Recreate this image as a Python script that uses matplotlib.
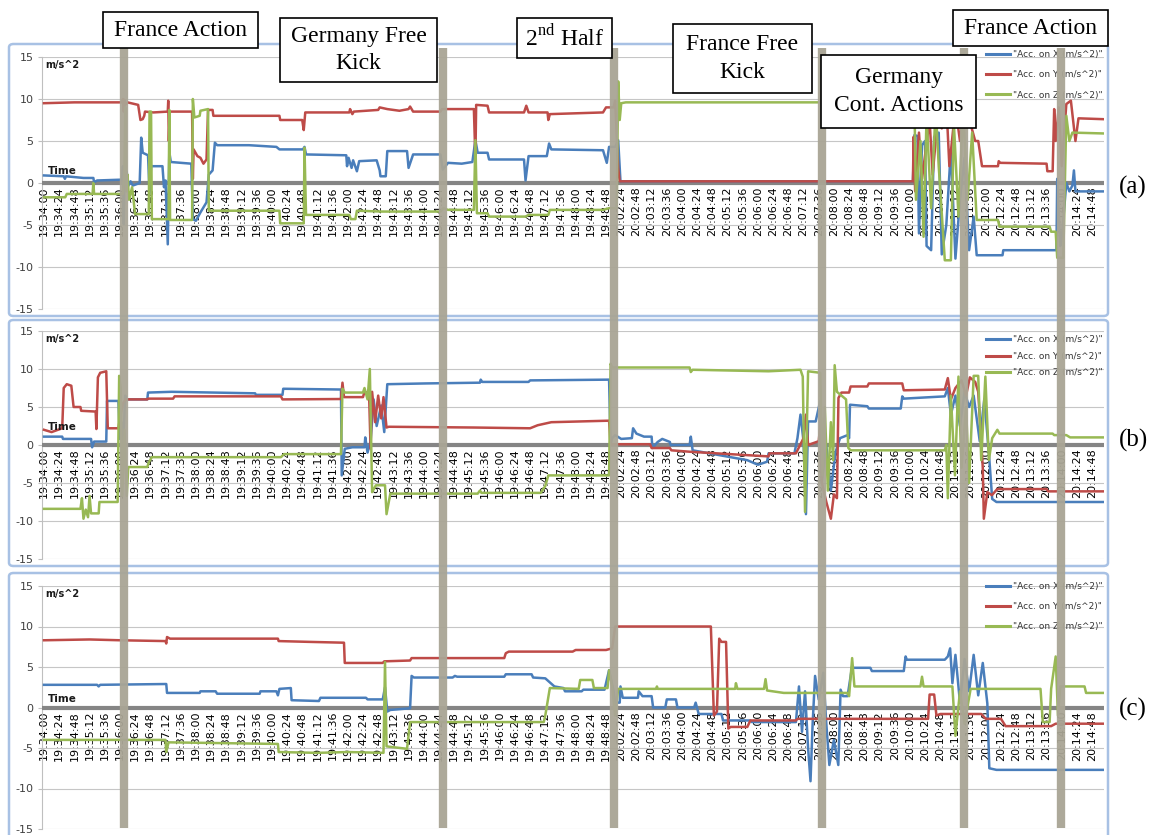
import matplotlib
matplotlib.use("Agg")
import matplotlib.pyplot as plt
import matplotlib.transforms as mtransforms
from matplotlib.lines import Line2D
from matplotlib.patches import Rectangle, FancyBboxPatch

plt.rcParams["font.family"] = ["DejaVu Sans"]
plt.rcParams["axes.unicode_minus"] = False

# ---------------------------------------------------------------- data
time_labels = [
    "19:34:00", "19:34:24", "19:34:48", "19:35:12", "19:35:36", "19:36:00",
    "19:36:24", "19:36:48", "19:37:12", "19:37:36", "19:38:00", "19:38:24",
    "19:38:48", "19:39:12", "19:39:36", "19:40:00", "19:40:24", "19:40:48",
    "19:41:12", "19:41:36", "19:42:00", "19:42:24", "19:42:48", "19:43:12",
    "19:43:36", "19:44:00", "19:44:24", "19:44:48", "19:45:12", "19:45:36",
    "19:46:00", "19:46:24", "19:46:48", "19:47:12", "19:47:36", "19:48:00",
    "19:48:24", "19:48:48",
    "20:02:24", "20:02:48", "20:03:12", "20:03:36", "20:04:00", "20:04:24",
    "20:04:48", "20:05:12", "20:05:36", "20:06:00", "20:06:24", "20:06:48",
    "20:07:12", "20:07:36", "20:08:00", "20:08:24", "20:08:48", "20:09:12",
    "20:09:36", "20:10:00", "20:10:24", "20:10:48", "20:11:12", "20:11:36",
    "20:12:00", "20:12:24", "20:12:48", "20:13:12", "20:13:36", "20:14:00",
    "20:14:24", "20:14:48",
]

series_names = ['"Acc. on X (m/s^2)"', '"Acc. on Y (m/s^2)"', '"Acc. on Z (m/s^2)"']

# samples as (position on the time axis in label steps, acceleration m/s^2)
panel_a_x = [
    (0.0, 0.9), (1.3, 0.8), (1.38, 0.5), (1.45, 0.8), (2.6, 0.6), (3.25, 0.6), (3.3, 0.1),
    (3.5, 0.3), (5.15, 0.4), (5.2, 2.0), (5.25, -4.9), (5.3, 0.8), (5.45, 1.3), (5.5, -0.5),
    (5.7, 0.2), (5.85, -0.3), (6.3, 0.0), (6.4, 5.4), (6.5, 3.6), (6.85, 3.3), (6.95, -1.2),
    (7.05, 2.0), (7.8, 2.0), (7.9, -0.5), (8.0, 0.3), (8.15, -7.3), (8.25, 3.7), (8.35, 2.5),
    (9.7, 2.3), (9.8, -4.3), (10.0, -4.5), (10.3, -3.5), (10.7, -2.3), (10.85, 1.0), (11.1, 1.5),
    (11.25, 4.8), (11.4, 4.5), (13.5, 4.5), (15.3, 4.3), (15.5, 4.0), (17.05, 4.0), (17.15, 4.3),
    (17.25, 3.4), (19.9, 3.3), (19.95, 2.0), (20.05, 3.0), (20.25, 1.8), (20.35, 2.7), (20.6, 1.4),
    (20.75, 2.6), (21.9, 2.7), (22.1, 1.5), (22.15, 0.8), (22.5, 0.8), (22.6, 3.8), (23.9, 3.8),
    (24.0, 1.8), (24.3, 3.4), (26.1, 3.4), (26.25, 1.6), (26.6, 2.4), (27.5, 2.3), (28.2, 2.5),
    (28.4, 5.1), (28.55, 3.6), (29.2, 3.6), (29.3, 2.8), (31.6, 2.8), (31.7, 0.3), (31.9, 3.2),
    (33.1, 3.2), (33.25, 4.7), (33.4, 4.0), (36.8, 3.9), (37.05, 2.4), (37.2, 4.3), (37.6, 4.3),
    (37.8, 5.1), (37.95, 0.2), (57.2, 0.2), (57.3, 5.7), (57.5, 5.6), (57.6, -6.0), (57.8, 4.5),
    (58.0, 5.0), (58.1, -7.5), (58.4, -8.0), (58.6, 5.5), (58.9, 6.0), (59.1, -8.5), (59.4, -5.0),
    (59.7, 4.0), (60.0, -9.0), (60.3, -2.0), (60.6, 3.0), (60.9, -8.0), (61.2, -4.0), (61.4, -8.6),
    (63.1, -8.6), (63.15, -8.0), (66.65, -8.0), (66.7, 0.5), (66.9, -7.5), (67.0, -6.5),
    (67.3, 0.0), (67.5, -1.0), (67.7, -0.3), (67.8, 1.5), (67.9, -1.0), (69.7, -1.0),
]
panel_a_y = [
    (0.0, 9.5), (2.0, 9.6), (5.15, 9.6), (5.2, 10.0), (5.25, 8.5), (5.3, 9.9), (5.35, 9.3),
    (5.5, 9.6), (6.2, 9.3), (6.35, 7.5), (6.5, 7.6), (6.6, 8.0), (6.65, 8.5), (7.2, 8.4),
    (8.15, 8.5), (8.18, 9.8), (8.22, 5.0), (8.28, 8.5), (9.75, 8.5), (9.8, 0.5), (9.85, 4.0),
    (10.1, 3.2), (10.3, 3.0), (10.5, 2.3), (10.7, 2.8), (10.8, 8.7), (11.1, 8.7), (11.15, 8.0),
    (15.5, 8.0), (15.55, 7.5), (17.0, 7.5), (17.1, 6.3), (17.2, 8.4), (20.1, 8.4), (20.15, 8.8),
    (20.3, 8.2), (20.4, 8.5), (22.0, 8.7), (22.1, 9.0), (22.6, 8.8), (23.4, 8.6), (24.0, 8.8),
    (24.1, 9.1), (24.3, 8.5), (26.1, 8.5), (26.2, 8.8), (28.3, 8.8), (28.4, 2.8), (28.45, 9.3),
    (29.2, 9.2), (29.3, 8.4), (31.6, 8.4), (31.75, 9.2), (31.9, 8.4), (33.15, 8.4), (33.2, 7.5),
    (33.3, 8.2), (36.8, 8.4), (37.0, 9.0), (37.5, 9.0), (37.6, 9.8), (37.8, 1.8), (37.9, 0.2),
    (57.2, 0.2), (57.25, 5.5), (57.35, -1.0), (57.6, 6.0), (57.8, 0.5), (58.3, 7.5), (58.5, 1.0),
    (58.9, 9.0), (59.1, 6.5), (59.4, 9.5), (59.6, 2.0), (60.0, 9.0), (60.3, 5.0), (60.6, 9.5),
    (61.0, 7.0), (61.3, 5.0), (61.5, 5.0), (61.75, 2.0), (62.8, 2.0), (62.85, 2.6), (62.95, 2.4),
    (66.0, 2.3), (66.05, 1.4), (66.4, 1.4), (66.5, 8.8), (66.6, 5.0), (66.8, 9.0), (67.0, 2.0),
    (67.3, 9.4), (67.6, 9.8), (67.9, 5.0), (68.1, 7.7), (69.7, 7.6),
]
panel_a_z = [
    (0.0, -1.7), (1.4, -1.7), (1.5, -1.3), (3.2, -1.3), (3.25, 0.0), (3.3, -1.3), (5.2, -1.3),
    (5.3, 2.0), (5.35, 9.0), (5.42, -1.0), (5.5, 1.0), (5.6, -2.0), (5.8, -0.5), (6.0, -3.7),
    (6.9, -3.7), (6.95, 8.5), (7.05, 8.5), (7.1, -4.3), (8.2, -4.3), (8.25, 8.7), (8.3, -4.4),
    (9.75, -4.4), (9.8, 10.0), (9.9, 7.8), (10.25, 8.0), (10.3, 8.6), (10.8, 8.8), (10.85, -3.3),
    (15.5, -3.3), (15.55, -4.8), (17.1, -4.8), (17.15, 4.2), (17.25, -3.8), (20.1, -3.8),
    (20.2, -4.3), (20.5, -4.3), (20.6, -3.3), (22.2, -3.4), (26.1, -3.4), (26.3, -3.0),
    (26.6, -3.2), (28.3, -3.2), (28.4, 5.1), (28.5, -3.6), (29.2, -3.6), (29.3, -4.0),
    (31.7, -4.0), (31.9, -3.8), (33.2, -3.8), (33.3, -3.2), (36.8, -3.2), (37.2, -3.0),
    (37.7, -3.0), (37.8, 12.1), (37.9, 7.5), (38.0, 9.5), (38.3, 9.6), (57.2, 9.6), (57.3, 9.6),
    (57.4, -2.0), (57.7, 5.0), (57.9, -6.4), (58.1, 8.0), (58.4, -3.0), (58.7, 9.0), (58.9, 2.0),
    (59.3, -9.2), (59.7, -9.2), (59.9, 7.0), (60.2, -4.0), (60.5, 9.0), (60.8, -2.0), (61.1, 6.0),
    (61.4, -4.4), (62.8, -4.4), (62.9, -5.2), (66.2, -5.2), (66.3, -5.8), (66.6, -5.8),
    (66.7, -8.9), (67.1, -8.9), (67.3, 8.0), (67.5, 5.0), (67.7, 6.0), (69.7, 5.9),
]

panel_b_x = [
    (0.0, 1.1), (1.2, 1.1), (1.25, 0.8), (3.1, 0.8), (3.17, -0.3), (3.3, 0.45), (4.1, 0.45),
    (4.15, 5.8), (4.9, 5.8), (5.0, 0.8), (5.1, 3.0), (5.2, -0.5), (5.35, 6.5), (5.4, 6.0),
    (6.8, 6.0), (6.85, 6.9), (8.4, 7.0), (13.9, 6.8), (13.95, 6.6), (15.7, 6.6), (15.75, 7.4),
    (19.55, 7.3), (19.6, -4.0), (19.8, -0.5), (20.3, -0.3), (21.1, -0.3), (21.15, 1.0),
    (21.3, -1.0), (21.5, 0.5), (21.7, 6.0), (21.9, 2.5), (22.2, 5.2), (22.4, 1.7), (22.6, 8.0),
    (25.1, 8.1), (28.7, 8.2), (28.75, 8.6), (28.85, 8.3), (31.9, 8.3), (32.0, 8.5), (37.2, 8.6),
    (37.3, 0.0), (37.4, 0.9), (37.6, 1.3), (38.0, 0.8), (38.7, 0.9), (38.78, 2.2), (39.0, 1.5),
    (39.5, 1.1), (40.0, 1.1), (40.05, -0.4), (40.4, 0.4), (40.7, 0.8), (41.2, 0.4), (41.25, 0.0),
    (42.5, 0.0), (42.58, 1.1), (42.7, -0.7), (46.3, -2.0), (47.0, -2.6), (47.6, -2.2),
    (47.7, -1.1), (49.4, -1.1), (49.6, 0.9), (49.8, 4.0), (50.0, 0.5), (50.16, -9.1), (50.3, 3.1),
    (50.8, 3.1), (51.1, 5.8), (51.2, -4.9), (51.5, 0.0), (51.8, -6.0), (52.1, -1.0), (52.4, 0.9),
    (52.9, 1.3), (53.0, 0.9), (53.06, 5.3), (54.2, 5.1), (54.3, 4.8), (56.4, 4.8), (56.5, 6.4),
    (56.6, 6.1), (59.3, 6.4), (59.5, 7.5), (59.7, 4.0), (60.0, 6.5), (60.3, 2.5), (60.6, 7.0),
    (60.9, 5.0), (61.2, 6.5), (61.6, 0.5), (61.9, 6.0), (62.2, -1.0), (62.42, -7.1),
    (62.7, -7.5), (69.7, -7.5),
]
panel_b_y = [
    (0.0, 2.0), (0.5, 1.7), (1.2, 2.2), (1.3, 7.5), (1.5, 8.0), (1.8, 7.8), (1.95, 5.0),
    (2.4, 5.0), (2.45, 4.5), (3.4, 4.4), (3.45, 2.1), (3.55, 8.9), (3.7, 9.5), (4.1, 9.7),
    (4.2, 2.2), (4.9, 2.2), (5.0, 3.5), (5.2, 5.5), (5.4, 6.0), (6.8, 6.0), (6.85, 6.1),
    (8.5, 6.1), (8.6, 6.4), (15.6, 6.4), (15.7, 6.0), (19.55, 6.05), (19.65, 8.2), (19.75, 6.3),
    (21.0, 6.3), (21.1, 7.0), (21.4, 6.8), (21.5, -0.5), (21.6, 7.0), (21.8, 3.0), (22.0, 6.5),
    (22.2, 3.5), (22.35, 6.3), (22.55, 2.3), (22.7, 2.4), (28.3, 2.3), (32.0, 2.2), (32.5, 2.6),
    (33.4, 3.0), (37.2, 3.2), (37.3, 0.0), (37.4, 0.1), (39.9, 0.1), (40.0, -0.4), (41.2, -0.4),
    (41.3, -0.7), (42.6, -0.9), (46.0, -1.3), (47.7, -1.5), (47.75, -1.1), (49.5, -1.1),
    (50.0, 0.9), (50.16, 4.0), (50.3, 0.0), (51.0, 0.5), (51.15, 3.6), (51.2, -4.9),
    (51.5, -7.5), (51.8, -9.7), (52.0, -6.5), (52.2, -7.0), (52.3, 6.2), (52.5, 6.9),
    (53.0, 6.9), (53.1, 7.7), (54.2, 7.7), (54.3, 8.1), (56.5, 8.1), (56.6, 7.2), (59.3, 7.3),
    (59.5, 8.8), (59.7, 6.0), (60.0, 7.5), (60.4, 8.5), (60.7, 6.5), (60.95, 8.9), (61.3, 8.3),
    (61.5, 7.0), (61.8, -3.0), (61.87, -9.7), (62.1, -6.2), (62.4, -6.6), (62.75, -5.8),
    (66.0, -5.8), (66.1, -6.1), (69.7, -6.1),
]
panel_b_z = [
    (0.0, -8.4), (2.4, -8.4), (2.5, -7.0), (2.6, -9.7), (2.75, -8.5), (2.9, -9.5), (3.0, -6.7),
    (3.1, -9.0), (3.6, -9.0), (3.65, -7.5), (4.85, -7.5), (4.95, 9.1), (5.05, 7.5), (5.15, -6.7),
    (5.3, 2.0), (5.45, -6.7), (5.55, -2.9), (6.8, -2.9), (6.9, -2.3), (7.1, -1.6), (15.6, -1.6),
    (15.8, -1.2), (19.55, -1.2), (19.65, 7.4), (19.8, 6.9), (21.0, 6.9), (21.1, 7.5),
    (21.3, 6.0), (21.45, 10.0), (21.6, -6.2), (21.85, -5.3), (22.45, -5.3), (22.55, -9.1),
    (22.8, -6.4), (28.55, -6.4), (28.7, -6.0), (28.8, -6.3), (32.7, -6.3), (33.0, -5.4),
    (33.2, -4.0), (37.2, -4.0), (37.3, 10.7), (37.4, 10.2), (42.5, 10.2), (42.58, 9.6),
    (42.7, 9.9), (47.7, 9.7), (49.8, 9.9), (49.95, 9.0), (50.1, -8.8), (50.3, 9.7), (51.1, 9.5),
    (51.25, -4.0), (51.4, 5.0), (51.6, -6.0), (51.8, 3.0), (51.95, -2.0), (52.05, 10.5),
    (52.2, 7.0), (52.8, 6.0), (52.95, -0.4), (53.1, -0.7), (59.3, -0.7), (59.4, 0.0),
    (59.5, -7.0), (59.7, 6.5), (59.97, -4.0), (60.2, 9.0), (60.4, -3.0), (60.7, 5.0),
    (60.9, -5.0), (61.2, 9.1), (61.5, 9.1), (61.7, -2.0), (61.97, 9.0), (62.2, -2.0),
    (62.42, 0.9), (62.76, 2.0), (62.9, 1.5), (66.4, 1.5), (66.5, 1.3), (67.3, 1.3), (67.55, 1.0),
    (69.7, 1.0),
]

panel_c_x = [
    (0.0, 2.8), (3.5, 2.8), (3.6, 2.6), (3.7, 2.8), (8.05, 2.9), (8.1, 1.8), (10.25, 1.8),
    (10.3, 2.0), (11.3, 2.0), (11.4, 1.7), (14.2, 1.7), (14.25, 2.0), (15.3, 2.0), (15.4, 1.5),
    (15.5, 2.3), (16.25, 2.4), (16.3, 0.9), (18.1, 0.8), (18.2, 1.2), (21.2, 1.2), (21.3, 1.0),
    (22.3, 1.0), (22.45, 2.5), (22.6, -0.5), (22.8, -0.3), (24.1, -0.1), (24.2, 3.9),
    (24.35, 3.7), (26.9, 3.7), (27.05, 3.9), (27.2, 3.8), (30.3, 3.8), (30.4, 4.1), (32.1, 4.1),
    (32.2, 3.7), (33.0, 3.6), (33.6, 2.6), (34.2, 2.4), (34.3, 2.0), (35.4, 2.0), (35.5, 2.2),
    (36.9, 2.2), (37.2, 4.6), (37.5, 2.0), (37.6, 0.6), (37.9, 0.6), (37.95, 2.6), (38.1, 1.2),
    (39.1, 1.2), (39.15, 2.0), (39.4, 1.4), (40.0, 1.4), (40.1, 0.0), (40.9, 0.0), (41.0, 1.0),
    (41.6, 1.0), (41.7, 0.0), (42.8, 0.0), (42.9, 0.6), (43.1, -0.8), (44.6, -0.8), (44.7, -1.6),
    (46.5, -1.6), (46.6, -1.8), (49.5, -1.8), (49.7, 2.6), (49.9, -3.0), (50.1, 2.0),
    (50.3, -5.0), (50.46, -9.1), (50.6, -2.0), (50.76, 3.9), (51.0, 1.0), (51.3, 4.3),
    (51.5, -2.0), (51.7, -7.1), (52.0, -4.0), (52.29, -7.1), (52.44, 2.2), (52.6, 1.4),
    (52.9, 1.4), (53.2, 5.1), (53.3, 4.9), (54.4, 4.9), (54.5, 4.5), (56.6, 4.5), (56.72, 6.3),
    (56.8, 5.9), (59.3, 5.9), (59.5, 6.3), (59.65, 7.3), (59.8, 3.0), (60.0, 6.5), (60.3, 0.6),
    (60.6, 6.0), (60.9, 2.0), (61.2, 6.5), (61.5, 1.5), (61.8, 5.5), (62.1, 0.5), (62.23, -7.5),
    (62.7, -7.7), (69.7, -7.7),
]
panel_c_y = [
    (0.0, 8.3), (3.0, 8.4), (5.0, 8.3), (8.0, 8.2), (8.05, 7.9), (8.1, 8.7), (8.3, 8.5),
    (15.4, 8.5), (15.45, 8.2), (17.5, 8.1), (19.75, 8.0), (19.8, 5.5), (22.3, 5.5), (22.4, 5.7),
    (24.1, 5.8), (24.2, 6.1), (30.3, 6.1), (30.4, 6.7), (30.6, 6.9), (34.8, 6.9), (35.0, 7.1),
    (37.0, 7.1), (37.4, 7.3), (37.6, 10.0), (43.9, 10.0), (44.1, -1.0), (44.3, -0.5),
    (44.45, 8.5), (44.6, 8.1), (44.9, 8.1), (45.05, -2.6), (45.2, -2.4), (46.3, -2.4),
    (46.5, -1.6), (49.5, -1.6), (49.6, -1.4), (58.2, -1.4), (58.3, 1.6), (58.6, 1.6),
    (58.75, -1.0), (59.0, -0.8), (61.7, -0.8), (62.0, -1.4), (63.0, -1.4), (63.3, -2.3),
    (66.3, -2.3), (66.6, -2.0), (69.7, -2.0),
]
panel_c_z = [
    (0.0, -4.0), (8.0, -4.0), (8.05, -5.5), (8.2, -4.3), (15.4, -4.5), (15.45, -5.5),
    (18.0, -5.6), (20.0, -5.5), (22.35, -5.6), (22.45, 5.6), (22.55, -4.8), (23.9, -5.1),
    (24.1, -1.8), (32.9, -1.8), (33.0, -1.0), (33.3, 2.4), (35.2, 2.3), (35.3, 3.4), (36.1, 3.4),
    (36.2, 2.4), (37.1, 2.4), (37.2, 4.6), (37.4, 2.6), (37.6, -1.0), (37.8, 2.3), (40.3, 2.3),
    (40.35, 2.6), (40.4, 2.3), (45.5, 2.3), (45.55, 3.0), (45.65, 2.3), (47.4, 2.3), (47.5, 3.5),
    (47.6, 2.1), (48.7, 1.8), (52.9, 1.8), (53.0, 1.4), (53.2, 6.1), (53.35, 2.6), (57.7, 2.6),
    (57.8, 3.8), (57.9, 2.6), (59.8, 2.6), (60.0, -3.5), (60.3, 2.0), (60.6, -2.0), (61.0, 2.3),
    (65.6, 2.3), (65.75, -1.8), (66.2, -1.8), (66.3, 2.3), (66.6, 6.3), (66.75, -1.0),
    (66.9, 2.6), (68.5, 2.6), (68.6, 1.8), (69.7, 1.8),
]

# match events on the time axis (label steps)
event_marks = [5.28, 26.3, 37.5, 51.2, 60.55, 66.93]
event_texts = ["France Action", "Germany Free\nKick", r"2$^{\mathregular{nd}}$ Half",
               "France Free\nKick", "Germany\nCont. Actions", "France Action"]

panel_tags = ["(a)", "(b)", "(c)"]

# ---------------------------------------------------------------- layout
W, H, DPI = 1160, 835, 100
colors = ["#4a7ebb", "#be4b48", "#98b954"]

fig = plt.figure(figsize=(W / DPI, H / DPI), dpi=DPI)
fig.patch.set_facecolor("white")


def fx(px):
    return px / W


def fy(py):
    return 1 - py / H


# pixel rows of each chart: (frame top, frame bottom, plot top, plot bottom, legend top,
# legend spacing, "Time" lift in points, tag y)
rows = [
    (44, 316, 57, 309, 50, 1.25, 6.5, 187),
    (320, 566, 331, 559, 335, 0.85, 10.5, 440),
    (573, 845, 586, 829, 582, 1.2, 3.6, 709),
]
callout_boxes = [
    (103, 12, 258, 48), (280, 18, 437, 82), (517, 18, 612, 58),
    (673, 24, 812, 93), (821, 55, 976, 128), (953, 10, 1108, 46),
]
PLOT_L, PLOT_R = 42, 1104
XLIM = (-0.13, 69.78)

panels = [
    (panel_a_x, panel_a_y, panel_a_z),
    (panel_b_x, panel_b_y, panel_b_z),
    (panel_c_x, panel_c_y, panel_c_z),
]

axes = []
for (series, row, tag) in zip(panels, rows, panel_tags):
    ftop, fbot, ptop, pbot, ltop, lspace, tlift, tag_y = row

    frame = FancyBboxPatch((fx(9), fy(fbot)), fx(1108) - fx(9), (fbot - ftop) / H,
                           boxstyle="round,pad=0,rounding_size=0.004",
                           transform=fig.transFigure, facecolor="none",
                           edgecolor="#a8c1e4", lw=1.8, zorder=0.5)
    fig.add_artist(frame)

    ax = fig.add_axes([fx(PLOT_L), fy(pbot), fx(PLOT_R) - fx(PLOT_L), (pbot - ptop) / H])
    ax.patch.set_visible(False)
    ax.set_xlim(*XLIM)
    ax.set_ylim(-15, 15)
    for s in ("top", "right"):
        ax.spines[s].set_visible(False)
    ax.spines["left"].set_color("#bfbfbf")
    ax.spines["left"].set_linewidth(0.8)
    ax.spines["bottom"].set_position(("data", 0))
    ax.spines["bottom"].set_color("#858585")
    ax.spines["bottom"].set_linewidth(3)
    ax.spines["bottom"].set_capstyle("butt")

    ax.set_yticks([-15, -10, -5, 0, 5, 10, 15])
    ax.yaxis.grid(True, color="#c6c6c6", lw=0.8)
    ax.set_axisbelow(True)
    ax.tick_params(axis="y", length=3, color="#bfbfbf", labelsize=8,
                   labelcolor="#404040", pad=3)

    ax.set_xticks(range(len(time_labels)))
    ax.set_xticklabels(time_labels, rotation=90, fontsize=8)
    ax.tick_params(axis="x", length=0, pad=2.5, labelcolor="black")

    for data, c in zip(series, colors):
        t = [p[0] for p in data]
        v = [p[1] for p in data]
        ax.plot(t, v, color=c, lw=1.8, zorder=3)

    handles = [Line2D([], [], color=c, lw=2.2) for c in colors]
    leg = ax.legend(handles, series_names, loc="upper right",
                    bbox_to_anchor=(fx(1103), fy(ltop)), bbox_transform=fig.transFigure,
                    frameon=False, fontsize=6.5, handlelength=2.7, handletextpad=0.35,
                    labelspacing=lspace, borderaxespad=0, borderpad=0,
                    labelcolor="#333333")

    ax.annotate("m/s^2", xy=(0, 1), xycoords="axes fraction", xytext=(2.5, -2),
                textcoords="offset points", ha="left", va="top", fontsize=7,
                fontweight="bold", color="#1a1a1a")
    ax.annotate("Time", xy=(0, 0), xycoords=ax.get_yaxis_transform(), xytext=(4, tlift),
                textcoords="offset points", ha="left", va="baseline", fontsize=7.5,
                fontweight="bold", color="#1a1a1a")

    fig.text(fx(1133), fy(tag_y), tag, ha="center", va="center",
             family="Liberation Serif", fontsize=18)
    axes.append(ax)

# event bands through all three charts
band_tf = mtransforms.blended_transform_factory(axes[0].transData, fig.transFigure)
for e in event_marks:
    fig.add_artist(Line2D([e, e], [fy(48), fy(828)], transform=band_tf, color="#a9a595",
                          lw=6, alpha=0.95, solid_capstyle="butt", zorder=2.5))

# event call-outs
for label, (x0, y0, x1, y1) in zip(event_texts, callout_boxes):
    fig.add_artist(Rectangle((fx(x0), fy(y1)), fx(x1) - fx(x0), (y1 - y0) / H,
                             transform=fig.transFigure, facecolor="white",
                             edgecolor="black", lw=1.2, zorder=4))
    fig.text(fx((x0 + x1) / 2), fy((y0 + y1) / 2), label, ha="center", va="center",
             family="Liberation Serif", fontsize=17, zorder=5, linespacing=1.4)

fig.savefig("out.png", dpi=DPI, facecolor="white")
